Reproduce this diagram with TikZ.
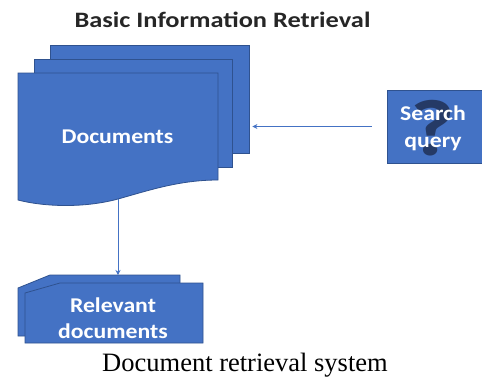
\documentclass[tikz,border=0pt]{standalone}
\usepackage{fontspec}
\setmainfont{Liberation Serif}
\newfontfamily\calfont[FakeStretch=1.2]{Carlito}
\newfontfamily\calfontw[FakeStretch=1.13]{Carlito}
\usetikzlibrary{arrows.meta}
\definecolor{ofblue}{HTML}{4472C4}
\definecolor{ofedge}{HTML}{2F528F}
\definecolor{qmark}{HTML}{22345C}
\definecolor{titlegray}{HTML}{262626}
\tikzset{
  page/.style={draw=ofedge, fill=ofblue, line width=0.8pt, inner sep=0pt, rectangle},
  shapefill/.style={draw=ofedge, fill=ofblue, line width=0.8pt},
  wtext/.style={text=white, font=\calfontw\bfseries\fontsize{21}{27}\selectfont, align=center, inner sep=0pt},
  arr/.style={draw=ofblue, line width=0.9pt, -{Stealth[length=5pt,width=5pt]}},
}
\begin{document}
\begin{tikzpicture}[x=1pt,y=-1pt]
\useasboundingbox (0,0) rectangle (482,376);
\clip (0,0) rectangle (482,376);
\fill[white] (0,0) rectangle (482,376);

% title
\node[anchor=base, inner sep=0pt, text=titlegray, font=\calfont\bfseries\fontsize{22}{26}\selectfont] (title) at (222.5,27) {Basic Information Retrieval};

% documents stack
\node[page, minimum width=199pt, minimum height=108pt] (p3) at (149.5,99) {};
\node[page, minimum width=198pt, minimum height=108pt] (p2) at (133,113) {};
\draw[shapefill] (18,73) -- (218,73) -- (218,180)
  .. controls (180,180) and (150,190) .. (118,199)
  .. controls (85,208) and (45,207) .. (18,200) -- cycle;
\node[wtext, anchor=base] (docs) at (117.5,143) {Documents};
\coordinate (dbot) at (118,199);

% search query
\node[page, minimum width=99pt, minimum height=73pt] (query) at (436.5,126.5) {};
\node[anchor=base, inner sep=0pt, text=qmark, opacity=0.9, font=\calfont\bfseries\fontsize{80}{90}\selectfont] (qm) at (433,155) {?};
\node[wtext] (qtext) at (433,128) {Search\\query};

% relevant documents
\draw[shapefill] (18,288) -- (50,275) -- (180,275) -- (180,336) -- (18,336) -- cycle;
\draw[shapefill] (25,293) -- (60,283) -- (203,283) -- (203,343) -- (25,343) -- cycle;
\coordinate (reltop) at (118,275);
\node[wtext, align=center, font=\calfontw\bfseries\fontsize{21}{26}\selectfont] (rel) at (113,318) {Relevant\\documents};

% connectors
\draw[arr] ([xshift=-15pt]query.west) -- ([xshift=3pt]query.west -| p3.east);
\draw[arr] (dbot) -- (reltop);

% caption
\node[anchor=base, inner sep=0pt, font=\fontsize{26.5}{30}\selectfont] (caption) at (245,371) {Document retrieval system};
\end{tikzpicture}
\end{document}
